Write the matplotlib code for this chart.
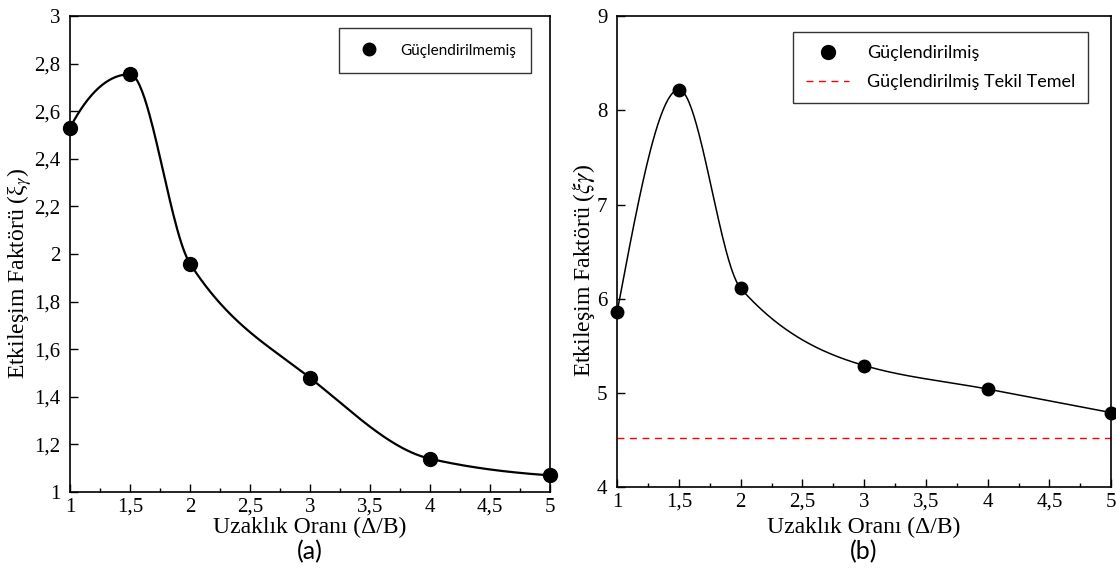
import numpy as np
import matplotlib
matplotlib.use('Agg')
import matplotlib.pyplot as plt
from matplotlib.ticker import MultipleLocator, FuncFormatter
from matplotlib.lines import Line2D

# veriler
oran = [1, 1.5, 2, 3, 4, 5]
guclendirilmemis = [2.53, 2.755, 1.96, 1.48, 1.14, 1.07]
guclendirilmis = [5.86, 8.22, 6.11, 5.29, 5.04, 4.79]
tekil_temel = 4.52


def pchip(x, y, xs):
    """monotone kübik interpolasyon (scipy yok)"""
    x = np.asarray(x, float)
    y = np.asarray(y, float)
    h = np.diff(x)
    d = np.diff(y) / h
    n = len(x)
    m = np.zeros(n)
    for k in range(1, n - 1):
        if d[k - 1] * d[k] <= 0:
            m[k] = 0
        else:
            w1 = 2 * h[k] + h[k - 1]
            w2 = h[k] + 2 * h[k - 1]
            m[k] = (w1 + w2) / (w1 / d[k - 1] + w2 / d[k])
    # uçlar: kiriş eğimi ile 3-nokta tahmininin ortalaması
    e0 = ((2 * h[0] + h[1]) * d[0] - h[0] * d[1]) / (h[0] + h[1])
    e1 = ((2 * h[-1] + h[-2]) * d[-1] - h[-1] * d[-2]) / (h[-1] + h[-2])
    m[0] = 0.5 * (d[0] + e0) if np.sign(e0) == np.sign(d[0]) else 0.5 * d[0]
    m[-1] = 0.5 * (d[-1] + e1) if np.sign(e1) == np.sign(d[-1]) else 0.5 * d[-1]
    out = np.empty_like(xs)
    for i, xv in enumerate(xs):
        k = min(np.searchsorted(x, xv, side='right') - 1, n - 2)
        t = (xv - x[k]) / h[k]
        h00 = 2 * t**3 - 3 * t**2 + 1
        h10 = t**3 - 2 * t**2 + t
        h01 = -2 * t**3 + 3 * t**2
        h11 = t**3 - t**2
        out[i] = h00 * y[k] + h10 * h[k] * m[k] + h01 * y[k + 1] + h11 * h[k] * m[k + 1]
    return out


plt.rcParams['mathtext.fontset'] = 'stix'
serif = 'Liberation Serif'
sans = 'Lato'

virgul = FuncFormatter(lambda v, p: ('%g' % v).replace('.', ','))

fig = plt.figure(figsize=(11.16, 5.82), dpi=100)
ax1 = fig.add_axes([0.0627, 0.1546, 0.430, 0.818])
ax2 = fig.add_axes([0.553, 0.1632, 0.4427, 0.809])

xs = np.linspace(1, 5, 400)

# (a) güçlendirilmemiş
ax1.plot(xs, pchip(oran, guclendirilmemis, xs), color='black', lw=1.6)
ax1.plot(oran, guclendirilmemis, 'o', color='black', ms=10, clip_on=False, zorder=5)
ax1.set_xlim(1, 5)
ax1.set_ylim(1, 3)
ax1.yaxis.set_major_locator(MultipleLocator(0.2))
ax1.set_ylabel('Etkileşim Faktörü (ξ$_γ$)', fontsize=17, family=serif)
ax1.yaxis.set_label_coords(-0.075, 0.46)
ax1.legend([Line2D([], [], ls='', marker='o', color='black', ms=9)],
           ['Güçlendirilmemiş'], loc='upper right',
           prop={'family': sans, 'size': 11}, fancybox=False,
           edgecolor='black', borderpad=1.0, handletextpad=1.0,
           bbox_to_anchor=(0.977, 0.99))

# (b) güçlendirilmiş
ax2.plot(xs, pchip(oran, guclendirilmis, xs), color='black', lw=1.1)
ax2.plot(oran, guclendirilmis, 'o', color='black', ms=9, clip_on=False, zorder=5)
ax2.axhline(tekil_temel, color='red', ls=(0, (5, 4)), lw=1)
ax2.set_xlim(1, 5)
ax2.set_ylim(4, 9)
ax2.yaxis.set_major_locator(MultipleLocator(1))
ax2.set_ylabel('Etkileşim Faktörü ($\\xi\\gamma$)', fontsize=17, family=serif)
ax2.yaxis.set_label_coords(-0.04, 0.46)
ax2.legend([Line2D([], [], ls='', marker='o', color='black', ms=10),
            Line2D([], [], color='red', ls=(0, (5, 4)), lw=1)],
           ['Güçlendirilmiş', 'Güçlendirilmiş Tekil Temel'],
           loc='upper right', prop={'family': sans, 'size': 13},
           fancybox=False, edgecolor='black', borderpad=0.7,
           handletextpad=1.0, handlelength=2.4, labelspacing=0.75,
           bbox_to_anchor=(0.972, 0.985))

for ax, etiket, xc in [(ax1, '(a)', 0.278), (ax2, '(b)', 0.774)]:
    ax.xaxis.set_major_locator(MultipleLocator(0.5))
    ax.xaxis.set_minor_locator(MultipleLocator(0.25))
    ax.xaxis.set_major_formatter(virgul)
    ax.yaxis.set_major_formatter(virgul)
    ax.tick_params(which='major', direction='in', length=6, width=1,
                   labelsize=15, top=False, right=False, pad=7)
    ax.tick_params(axis='x', which='major', pad=4)
    ax.tick_params(which='minor', direction='in', length=3, width=1,
                   top=False, right=False)
    for lab in ax.get_xticklabels() + ax.get_yticklabels():
        lab.set_family(serif)
    for sp in ax.spines.values():
        sp.set_linewidth(1.2)
    ax.set_xlabel('Uzaklık Oranı (Δ/B)', fontsize=17, family=serif)
    fig.text(xc, 0.073, etiket, ha='center', va='top', fontsize=18, family=sans)

ax1.xaxis.set_label_coords(0.5, -0.052)
ax2.xaxis.set_label_coords(0.5, -0.063)

fig.savefig('out.png', dpi=100)
